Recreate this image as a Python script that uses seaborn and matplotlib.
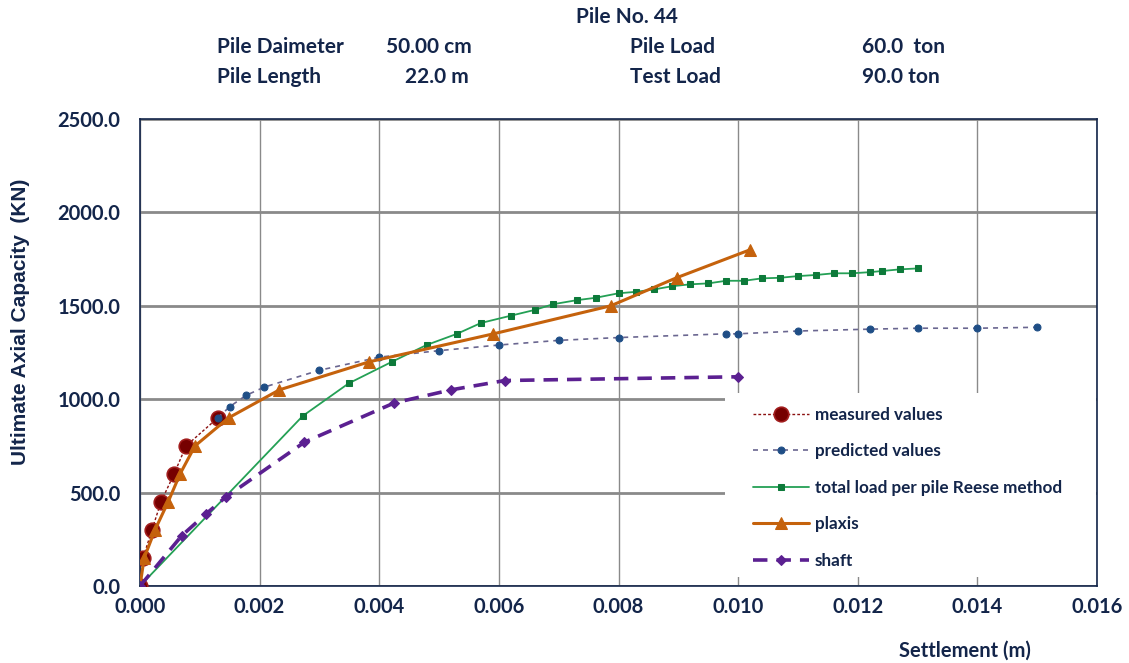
"""
Pile No. 44 - load / settlement curves.
"""
import matplotlib
matplotlib.use("Agg")
import matplotlib.pyplot as plt
from matplotlib.patches import Rectangle
from matplotlib.ticker import FormatStrFormatter, MultipleLocator
import seaborn as sns

# --- data ---
measured_x = [0.0, 0.00005, 0.0002, 0.00035, 0.00057, 0.00077, 0.0013]
measured_y = [0, 150, 300, 450, 600, 750, 900]

predicted_x = [0.0013, 0.0015, 0.00177, 0.00208, 0.0030, 0.0040, 0.0050, 0.0060, 0.0070,
               0.0080, 0.0098, 0.0100, 0.0110, 0.0122, 0.0130, 0.0140, 0.0150]
predicted_y = [900, 960, 1020, 1065, 1155, 1225, 1260, 1290, 1315,
               1330, 1350, 1350, 1365, 1375, 1380, 1380, 1385]

reese_x = [0.0, 0.00272, 0.00349, 0.00421, 0.00479, 0.0053, 0.0057, 0.0062, 0.0066, 0.0069,
           0.0073, 0.00762, 0.0080, 0.0083, 0.0086, 0.0089, 0.0092, 0.0095, 0.0098, 0.0101,
           0.0104, 0.0107, 0.0110, 0.0113, 0.0116, 0.0119, 0.0122, 0.0124, 0.0127, 0.0130]
reese_y = [0, 910, 1085, 1200, 1290, 1350, 1408, 1447, 1478, 1508,
           1530, 1543, 1567, 1575, 1588, 1605, 1615, 1620, 1634, 1634,
           1647, 1650, 1659, 1665, 1674, 1674, 1680, 1686, 1695, 1700]

plaxis_x = [0.0, 0.00007, 0.00025, 0.00047, 0.00067, 0.00092, 0.00148, 0.00233,
            0.00383, 0.00591, 0.00787, 0.00897, 0.0102]
plaxis_y = [0, 150, 300, 450, 600, 750, 900, 1050, 1200, 1350, 1500, 1650, 1800]

shaft_x = [0.0, 0.0007, 0.0011, 0.00143, 0.00275, 0.00425, 0.0052, 0.0061, 0.0100]
shaft_y = [0, 270, 385, 475, 770, 980, 1050, 1100, 1120]

header = [
    ("Pile No. 44", 627, 17, "center"),
    ("Pile Daimeter", 217, 47, "left"),
    ("50.00 cm", 386, 47, "left"),
    ("Pile Load", 630, 47, "left"),
    ("60.0  ton", 862, 47, "left"),
    ("Pile Length", 217, 77, "left"),
    ("22.0 m", 405, 77, "left"),
    ("Test Load", 630, 77, "left"),
    ("90.0 ton", 862, 77, "left"),
]

NAVY = "#13254a"
W, H = 1129, 663

sns.set_theme(style="white")
plt.rcParams["font.family"] = ["Lato", "DejaVu Sans"]

fig = plt.figure(figsize=(W / 100, H / 100), dpi=100)
ax = fig.add_axes([140 / W, 1 - 586 / H, 957 / W, 467 / H])

common = dict(ax=ax, sort=False, estimator=None)
sns.lineplot(x=measured_x, y=measured_y, color="#8b1010", lw=1.0, linestyle=(0, (2, 1.5)),
             marker="o", markersize=10.5, markerfacecolor="#760000", markeredgecolor="#a11d1d",
             markeredgewidth=1.2, label="measured values", zorder=3, **common)
sns.lineplot(x=predicted_x, y=predicted_y, color="#6a6690", lw=1.2, linestyle=(0, (3, 3)),
             marker="o", markersize=5, markerfacecolor="#1f4e86", markeredgecolor="#1f4e86",
             label="predicted values", zorder=4, **common)
sns.lineplot(x=reese_x, y=reese_y, color="#24a055", lw=1.3, linestyle="-",
             marker="s", markersize=4.5, markerfacecolor="#0d7a3a", markeredgecolor="#0d7a3a",
             label="total load per pile Reese method", zorder=5, **common)
sns.lineplot(x=plaxis_x, y=plaxis_y, color="#c5620c", lw=2.2, linestyle="-",
             marker="^", markersize=9, markerfacecolor="#c5620c", markeredgecolor="#c5620c",
             label="plaxis", zorder=6, **common)
sns.lineplot(x=shaft_x, y=shaft_y, color="#5b2091", lw=2.6, linestyle=(0, (4, 2.5)),
             marker="D", markersize=5.5, markerfacecolor="#5b2091", markeredgecolor="#5b2091",
             label="shaft", zorder=7, **common)

ax.set_xlim(0, 0.016)
ax.set_ylim(0, 2500)
ax.xaxis.set_major_locator(MultipleLocator(0.002))
ax.yaxis.set_major_locator(MultipleLocator(500))
ax.xaxis.set_major_formatter(FormatStrFormatter("%.3f"))
ax.yaxis.set_major_formatter(FormatStrFormatter("%.1f"))

ax.grid(False)
for xv in ax.get_xticks()[1:-1]:
    ax.axvline(xv, color="#8a8a8a", lw=1.0, zorder=1)
for yv in ax.get_yticks()[1:]:
    ax.axhline(yv, color="#8a8a8a", lw=2.0, zorder=1)

for side in ["left", "bottom", "right", "top"]:
    ax.spines[side].set_color(NAVY)
    ax.spines[side].set_linewidth(1.2)
    ax.spines[side].set_zorder(2)

ax.tick_params(axis="both", length=0, labelsize=14.5, labelcolor=NAVY)
ax.tick_params(axis="y", pad=14)
ax.tick_params(axis="x", pad=8)
for lab in ax.get_xticklabels() + ax.get_yticklabels():
    lab.set_fontweight("bold")

ax.set_ylabel("Ultimate Axial Capacity  (KN)", fontsize=15, fontweight="bold", color=NAVY,
              family=["Liberation Sans", "DejaVu Sans"])
ax.yaxis.set_label_coords(-(140 - 30) / 957, (586 - 322) / 467)
ax.set_xlabel("Settlement (m)", fontsize=14.5, fontweight="bold", color=NAVY)
ax.xaxis.set_label_coords((965 - 140) / 957, (586 - 641) / 467)

# white box behind the legend hides the grid there
ax.add_patch(Rectangle(((725 - 140) / 957, (586 - 577) / 467), (1096 - 725) / 957, 184 / 467,
                       transform=ax.transAxes, facecolor="white", edgecolor="none", zorder=1.5))
leg = ax.legend(loc="upper left", bbox_to_anchor=((744 - 140) / 957, (586 - 398) / 467),
                frameon=False, borderpad=0, fontsize=12.3, labelspacing=1.2,
                handlelength=3.3, handletextpad=0.35)
for t in leg.get_texts():
    t.set_color(NAVY)
    t.set_fontweight("bold")

for text, px, py, ha in header:
    fig.text(px / W, 1 - py / H, text, ha=ha, va="center", fontsize=15,
             fontweight="bold", color=NAVY)

fig.savefig("out.png", dpi=100)
